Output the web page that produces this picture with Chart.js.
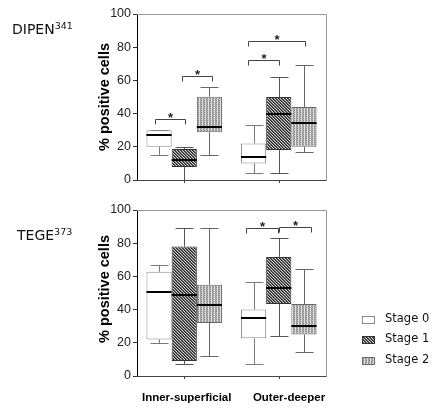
<!DOCTYPE html>
<html><head><meta charset="utf-8">
<script src="https://cdn.jsdelivr.net/npm/chart.js@4.4.1/dist/chart.umd.min.js"></script>
<style>
html,body{margin:0;padding:0;background:#fff;}
#wrap{position:relative;width:436px;height:412px;overflow:hidden;background:#fff;font-family:"DejaVu Sans",sans-serif;}
#wrap canvas{position:absolute;left:0;}
.ttl{position:absolute;font-size:14px;line-height:14px;color:#111;white-space:nowrap;}
.ttl span{font-size:9.5px;position:relative;top:-4.6px;}
.ytitle{position:absolute;font-family:"Liberation Sans",Arial,sans-serif;font-weight:bold;font-size:14.5px;line-height:14.5px;white-space:nowrap;color:#000;transform:translate(-50%,-50%) rotate(-90deg);}
.xlab{position:absolute;top:392px;font-family:"Liberation Sans",Arial,sans-serif;font-weight:bold;font-size:11.5px;line-height:11.5px;white-space:nowrap;color:#000;transform:translateX(-50%);}
.legtxt{position:absolute;left:385px;font-size:11.5px;line-height:11.5px;color:#111;white-space:nowrap;}
.legbox{position:absolute;left:362px;width:11px;height:6px;border:1px solid #666;}
</style>
</head><body>
<div id="wrap">
  <canvas id="c1" width="436" height="195" style="top:0;width:436px;height:195px"></canvas>
  <canvas id="c2" width="436" height="217" style="top:195px;width:436px;height:217px"></canvas>
  <div class="ttl" style="left:12px;top:21.5px">DIPEN<span>341</span></div>
  <div class="ttl" style="left:17px;top:227.5px">TEGE<span>373</span></div>
  <div class="ytitle" style="left:104px;top:96.7px">% positive cells</div>
  <div class="ytitle" style="left:104px;top:288.5px">% positive cells</div>
  <div id="xlabs"></div>
  <div id="legend"></div>
</div>
<script>
// ---- data ----
const categories = ["Inner-superficial", "Outer-deeper"];
const stageLabels = ["Stage 0", "Stage 1", "Stage 2"];
const yTicks = [0, 20, 40, 60, 80, 100];
// five-number summaries per category: [min, q1, median, q3, max]
const dipenStage0 = [[15, 20, 27, 30, 30], [4, 10, 13.7, 22, 33]];
const dipenStage1 = [[0, 7.8, 12, 18.7, 20], [4, 18, 40, 50, 62]];
const dipenStage2 = [[15, 28.7, 32, 50.2, 56], [17, 20, 34.5, 44, 69]];
const tegeStage0 = [[20, 22, 50.8, 62.8, 67], [7, 22.7, 35, 40, 56.4]];
const tegeStage1 = [[7, 9, 49, 78, 89], [24, 43.4, 53, 71.7, 83.3]];
const tegeStage2 = [[12, 32, 42.5, 55, 89], [14.3, 25, 30.3, 43.4, 64.5]];
// significance brackets: [category, from stage, to stage, value]
const dipenBrackets = [[0, -0.16, 1.03, 37], [0, 0.91, 2.1, 62.5], [1, -0.22, 1.01, 72], [1, -0.22, 2.04, 84]];
const tegeBrackets = [[1, -0.3, 0.96, 89], [1, 1.01, 2.27, 90]];

// ---- patterns ----
function makeTile(w, h, fn) {
  const c = document.createElement('canvas'); c.width = w; c.height = h;
  const g = c.getContext('2d');
  for (let y = 0; y < h; y++) for (let x = 0; x < w; x++) { g.fillStyle = fn(x, y); g.fillRect(x, y, 1, 1); }
  return c;
}
const tile0 = makeTile(2, 2, () => '#ffffff');
const tile1 = makeTile(3, 3, (x, y) => ['#2a2a2a', '#626262', '#cccccc'][((x - y) % 3 + 3) % 3]);
const tile2 = makeTile(3, 2, (x, y) => [['#8c8c8c', '#d8d8d8', '#a4a4a4'], ['#b6b6b6', '#e2e2e2', '#989898']][y][x]);
const pctx = document.createElement('canvas').getContext('2d');
const fills = [pctx.createPattern(tile0, 'repeat'), pctx.createPattern(tile1, 'repeat'), pctx.createPattern(tile2, 'repeat')];
const tiles = [tile0, tile1, tile2];
const borders = ['#8a8a8a', '#333333', '#6a6a6a'];
const whiskerCols = ['#7a7a7a', '#555555', '#666666'];

// ---- plugin ----
const boxPlugin = {
  id: 'boxWhisker',
  beforeDatasetsDraw(chart) {
    const ctx = chart.ctx, ys = chart.scales.y;
    ctx.save();
    chart.data.datasets.forEach((ds, i) => {
      const meta = chart.getDatasetMeta(i);
      meta.data.forEach((el, j) => {
        const s = ds.stats[j];
        const x = Math.round(el.x) + 0.5, cw = Math.round(el.width * 0.72);
        ctx.strokeStyle = whiskerCols[i]; ctx.lineWidth = 1;
        const pMin = Math.round(ys.getPixelForValue(s[0])) + 0.5;
        const pQ1 = ys.getPixelForValue(s[1]);
        const pQ3 = ys.getPixelForValue(s[3]);
        const pMax = Math.round(ys.getPixelForValue(s[4])) + 0.5;
        ctx.beginPath();
        ctx.moveTo(x, pQ1); ctx.lineTo(x, pMin);
        ctx.moveTo(x, pQ3); ctx.lineTo(x, pMax);
        ctx.moveTo(x - cw / 2, pMin); ctx.lineTo(x + cw / 2, pMin);
        ctx.moveTo(x - cw / 2, pMax); ctx.lineTo(x + cw / 2, pMax);
        ctx.stroke();
      });
    });
    ctx.restore();
  },
  afterDatasetsDraw(chart) {
    const ctx = chart.ctx, ys = chart.scales.y, xs = chart.scales.x, a = chart.chartArea;
    ctx.save();
    // medians
    chart.data.datasets.forEach((ds, i) => {
      const meta = chart.getDatasetMeta(i);
      meta.data.forEach((el, j) => {
        const s = ds.stats[j];
        const py = Math.round(ys.getPixelForValue(s[2]));
        ctx.strokeStyle = '#000'; ctx.lineWidth = 2;
        ctx.beginPath(); ctx.moveTo(el.x - el.width / 2, py); ctx.lineTo(el.x + el.width / 2, py); ctx.stroke();
      });
    });
    // frame
    ctx.lineWidth = 1;
    ctx.strokeStyle = '#999';
    ctx.beginPath();
    ctx.moveTo(a.left, Math.round(a.top) + 0.5); ctx.lineTo(Math.round(a.right) + 0.5, Math.round(a.top) + 0.5);
    ctx.lineTo(Math.round(a.right) + 0.5, Math.round(a.bottom) + 0.5);
    ctx.stroke();
    ctx.strokeStyle = '#444';
    ctx.beginPath();
    ctx.moveTo(a.left, Math.round(a.bottom) + 0.5); ctx.lineTo(Math.round(a.right) + 0.5, Math.round(a.bottom) + 0.5);
    categories.forEach((c, k) => {
      const cx = Math.round(xs.getPixelForValue(k)) + 0.5;
      ctx.moveTo(cx, Math.round(a.bottom)); ctx.lineTo(cx, Math.round(a.bottom) + 3);
    });
    ctx.stroke();
    // brackets
    const w = chart.getDatasetMeta(0).data[0].width;
    ctx.strokeStyle = '#444'; ctx.fillStyle = '#222';
    ctx.font = 'bold 13px "Liberation Sans", Arial, sans-serif';
    ctx.textAlign = 'center'; ctx.textBaseline = 'alphabetic';
    (chart.options.brackets || []).forEach(b => {
      const cx = xs.getPixelForValue(b[0]);
      const x1 = Math.round(cx + (b[1] - 1) * w) + 0.5, x2 = Math.round(cx + (b[2] - 1) * w) + 0.5;
      const py = Math.round(ys.getPixelForValue(b[3])) + 0.5;
      ctx.beginPath();
      ctx.moveTo(x1, py + 5); ctx.lineTo(x1, py); ctx.lineTo(x2, py); ctx.lineTo(x2, py + 5);
      ctx.stroke();
      ctx.fillText('*', (x1 + x2) / 2, py + 2);
    });
    ctx.restore();
  }
};

function makeChart(id, stagesData, brackets, padTop, padBottom) {
  return new Chart(document.getElementById(id), {
    type: 'bar',
    data: {
      labels: categories,
      datasets: stagesData.map((st, i) => ({
        label: stageLabels[i],
        data: st.map(s => [s[1], s[3]]),
        stats: st,
        backgroundColor: fills[i],
        borderColor: borders[i],
        borderWidth: 1,
        borderSkipped: false,
        barPercentage: 1.0,
        categoryPercentage: 0.8
      }))
    },
    options: {
      responsive: false, devicePixelRatio: 1, animation: false,
      brackets: brackets,
      layout: { padding: { left: 0, right: 110, top: padTop, bottom: padBottom } },
      plugins: { legend: { display: false }, tooltip: { enabled: false } },
      scales: {
        x: { display: false },
        y: {
          min: 0, max: 100,
          afterBuildTicks: s => { s.ticks = yTicks.map(v => ({ value: v })); },
          afterFit: s => { s.width = 137; },
          ticks: { color: '#222', padding: 2, font: { family: '"Liberation Sans", Arial, sans-serif', size: 12.5 } },
          grid: { drawOnChartArea: false, drawTicks: true, tickLength: 4, color: '#333' },
          border: { display: true, color: '#000', width: 1 }
        }
      }
    },
    plugins: [boxPlugin]
  });
}

makeChart('c1', [dipenStage0, dipenStage1, dipenStage2], dipenBrackets, 14, 15);
makeChart('c2', [tegeStage0, tegeStage1, tegeStage2], tegeBrackets, 15, 36);

// x labels
const xl = document.getElementById('xlabs');
const xCenters = [186.7, 289];
categories.forEach((c, k) => {
  const d = document.createElement('div'); d.className = 'xlab'; d.textContent = c;
  d.style.left = xCenters[k] + 'px'; xl.appendChild(d);
});
// legend
const lg = document.getElementById('legend');
const legTops = [312.6, 333.4, 354.2];
stageLabels.forEach((s, i) => {
  const b = document.createElement('div'); b.className = 'legbox';
  b.style.top = (legTops[i] + 3) + 'px';
  b.style.backgroundImage = 'url(' + tiles[i].toDataURL() + ')';
  b.style.borderColor = borders[i];
  lg.appendChild(b);
  const t = document.createElement('div'); t.className = 'legtxt'; t.textContent = s;
  t.style.top = legTops[i] + 'px'; lg.appendChild(t);
});
</script>
</body></html>
